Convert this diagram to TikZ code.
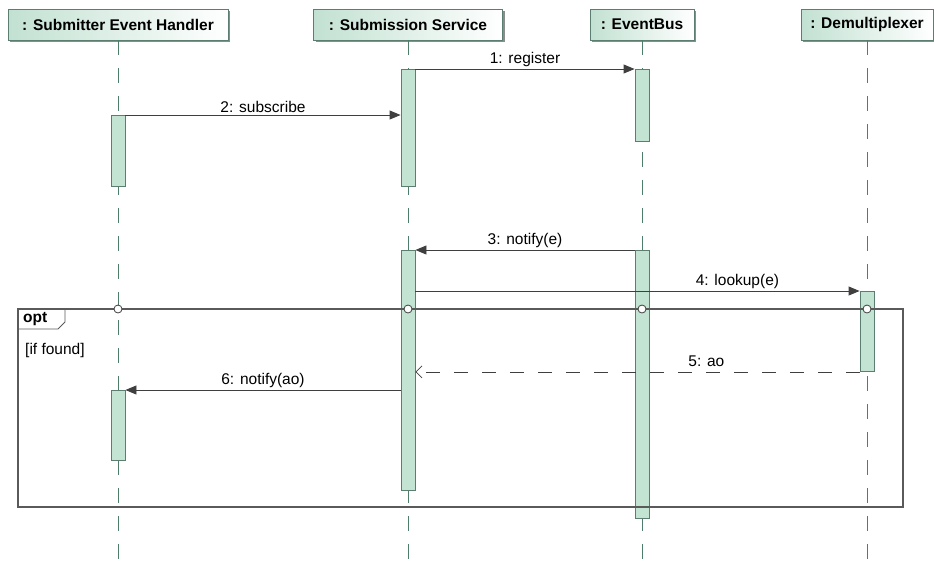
\documentclass[tikz,border=0pt]{standalone}
\usepackage{fontspec}
\setmainfont{Liberation Sans}
\usetikzlibrary{arrows.meta,shadows}
\definecolor{headgreen}{HTML}{C2E1D2}
\definecolor{edgegreen}{HTML}{5C7E70}
\definecolor{actgreen}{HTML}{C3E3D3}
\definecolor{lifegreen}{HTML}{4E7D6A}
\definecolor{msggray}{HTML}{3F3F3F}
\definecolor{framegray}{HTML}{5A5A5A}
\tikzset{
HEAD/.style ={draw=edgegreen,line width=0.9pt,left color=headgreen,right color=white,minimum height=31pt,inner sep=0pt,font=\fontsize{15.5}{18}\selectfont\bfseries,drop shadow={shadow xshift=2pt,shadow yshift=-2pt,fill=black!45,opacity=1}},
LIFE/.style ={draw=lifegreen,line width=0.8pt,dash pattern=on 15pt off 13pt},
ACT/.style ={draw=edgegreen,fill=actgreen,line width=0.9pt,minimum width=14pt,inner sep=0pt,anchor=north},
MSG/.style ={draw=msggray,line width=0.9pt,-{Triangle[length=11pt,width=9pt]}},
REPLY/.style ={draw=msggray,line width=0.8pt,dash pattern=on 14pt off 14pt,-{Straight Barb[length=6pt,width=12pt]}},
LBL/.style ={font=\fontsize{15.5}{18}\selectfont,above,inner sep=2pt},
FRAME/.style ={draw=framegray,line width=1.2pt},
GATE/.style ={circle,draw=msggray,fill=white,line width=0.8pt,minimum size=8pt,inner sep=0pt},
}
\begin{document}
\begin{tikzpicture}[x=1pt,y=-1pt]
	\useasboundingbox (0,0) rectangle (934,563);
	\node[HEAD,minimum width=220pt] (seh) at (118,24.5) {: Submitter Event Handler};
	\node[HEAD,minimum width=189pt] (ss) at (408,24.5) {: Submission Service};
	\node[HEAD,minimum width=104pt] (eb) at (642,24.5) {: EventBus};
	\node[HEAD,minimum width=132pt] (dm) at (867,24.5) {: Demultiplexer};
	\coordinate (bottom) at (0,563);
	\coordinate (optedge) at (0,309);
	\foreach \n in {seh,ss,eb,dm}
		\draw[LIFE] (\n.south) -- (\n.south |- bottom);
	\node[ACT,minimum height=117pt] (ss1) at (ss.south |- 0,69) {};
	\node[ACT,minimum height=72pt] (eb1) at (eb.south |- 0,69) {};
	\node[ACT,minimum height=71pt] (seh1) at (seh.south |- 0,115) {};
	\node[ACT,minimum height=240pt] (ss2) at (ss.south |- 0,250) {};
	\node[ACT,minimum height=268pt] (eb2) at (eb.south |- 0,250) {};
	\node[ACT,minimum height=80pt] (dm1) at (dm.south |- 0,291) {};
	\node[ACT,minimum height=70pt] (seh2) at (seh.south |- 0,390) {};
	\draw[FRAME] (18,309) rectangle (903,507);
	\node[font=\fontsize{15.5}{18}\selectfont\bfseries,anchor=west,inner sep=0pt] (opttag) at (23,319.5) {opt};
	\draw[FRAME,line width=0.9pt] (18,329) -- (58,329) -- (65,322) -- (65,309);
	\node[font=\fontsize{15.5}{18}\selectfont,anchor=west,inner sep=0pt] (guard) at (25,350) {[if found]};
	\foreach \n in {seh,ss,eb,dm}
		\node[GATE] (g\n) at (\n.south |- optedge) {};
	\draw[MSG] (ss1.north east) -- node[LBL] {1: register} (eb1.north west);
	\draw[MSG] (seh1.north east) -- node[LBL] {2: subscribe} (seh1.north east -| ss1.west);
	\draw[MSG] (eb2.north west) -- node[LBL] {3: notify(e)} (ss2.north east);
	\draw[MSG] (dm1.north west -| ss2.east) -- node[LBL,pos=0.725] {4: lookup(e)} (dm1.north west);
	\draw[REPLY] (dm1.south west) -- node[LBL,pos=0.345,inner sep=5pt] {5: ao} (dm1.south west -| ss2.east);
	\draw[MSG] (seh2.north east -| ss2.west) -- node[LBL] {6: notify(ao)} (seh2.north east);
\end{tikzpicture}
\end{document}
